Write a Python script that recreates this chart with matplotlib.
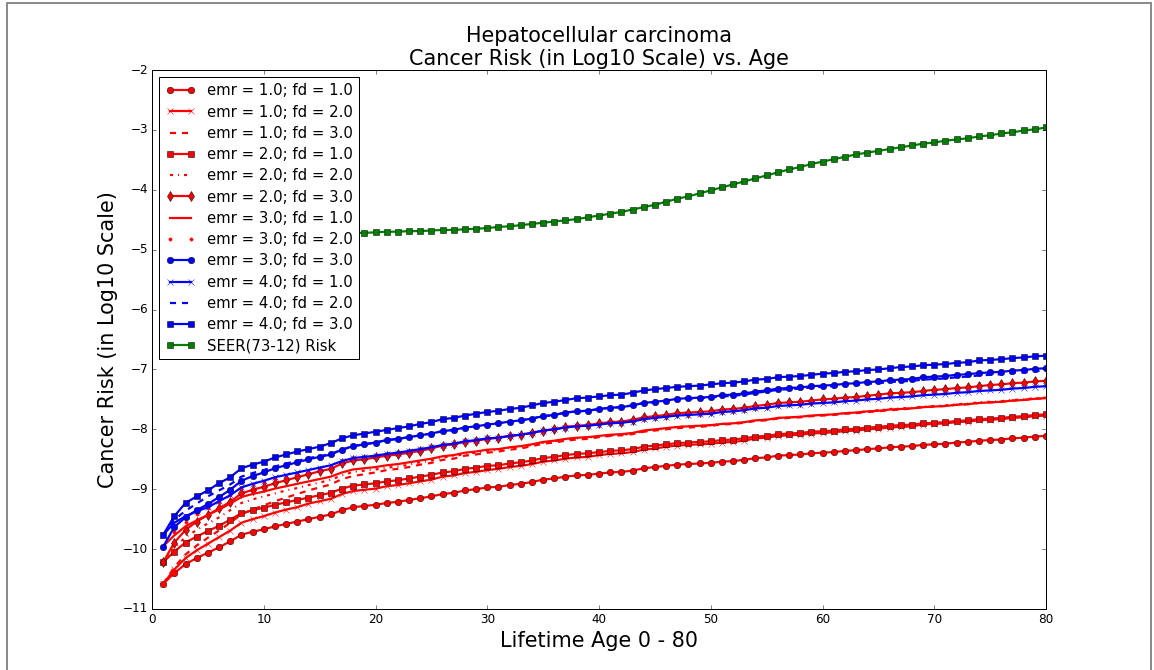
import matplotlib
matplotlib.use("Agg")
import matplotlib.pyplot as plt
from matplotlib.patches import Rectangle

plt.style.use("classic")
plt.rcParams["font.family"] = ["DejaVu Sans"]

# lifetime age in years
ages = list(range(1, 81))

# log10 cancer risk per (emr, fd) combination
emr1_fd1 = [-10.58, -10.40, -10.25, -10.15, -10.06, -9.97, -9.87, -9.76, -9.71, -9.67,
            -9.62, -9.58, -9.54, -9.50, -9.46, -9.42, -9.35, -9.30, -9.28, -9.26,
            -9.23, -9.21, -9.18, -9.15, -9.12, -9.08, -9.06, -9.02, -9.00, -8.97,
            -8.96, -8.93, -8.91, -8.88, -8.84, -8.82, -8.79, -8.77, -8.76, -8.74,
            -8.72, -8.71, -8.69, -8.65, -8.63, -8.61, -8.59, -8.58, -8.57, -8.56,
            -8.54, -8.53, -8.51, -8.48, -8.47, -8.44, -8.43, -8.42, -8.40, -8.39,
            -8.38, -8.36, -8.35, -8.33, -8.32, -8.30, -8.29, -8.28, -8.26, -8.25,
            -8.24, -8.22, -8.21, -8.19, -8.18, -8.17, -8.15, -8.14, -8.12, -8.11]

emr1_fd2 = [-10.58, -10.34, -10.15, -10.02, -9.91, -9.80, -9.69, -9.56, -9.50, -9.45,
            -9.39, -9.34, -9.30, -9.24, -9.20, -9.16, -9.08, -9.03, -9.01, -8.99,
            -8.95, -8.93, -8.90, -8.87, -8.84, -8.79, -8.77, -8.73, -8.71, -8.68,
            -8.66, -8.63, -8.61, -8.58, -8.54, -8.52, -8.49, -8.47, -8.46, -8.43,
            -8.41, -8.40, -8.38, -8.34, -8.32, -8.29, -8.27, -8.26, -8.25, -8.24,
            -8.22, -8.21, -8.19, -8.15, -8.14, -8.11, -8.10, -8.09, -8.07, -8.06,
            -8.05, -8.03, -8.02, -8.00, -7.99, -7.97, -7.96, -7.95, -7.92, -7.91,
            -7.90, -7.88, -7.87, -7.85, -7.84, -7.83, -7.81, -7.80, -7.78, -7.77]

emr1_fd3 = [-10.58, -10.30, -10.09, -9.94, -9.81, -9.69, -9.56, -9.42, -9.34, -9.27,
            -9.20, -9.14, -9.08, -9.02, -8.97, -8.92, -8.83, -8.78, -8.75, -8.72,
            -8.68, -8.66, -8.63, -8.59, -8.56, -8.51, -8.49, -8.44, -8.42, -8.39,
            -8.37, -8.34, -8.32, -8.28, -8.24, -8.22, -8.19, -8.17, -8.16, -8.13,
            -8.11, -8.10, -8.08, -8.04, -8.02, -8.00, -7.98, -7.97, -7.96, -7.94,
            -7.92, -7.91, -7.89, -7.86, -7.85, -7.82, -7.81, -7.80, -7.78, -7.77,
            -7.76, -7.74, -7.73, -7.71, -7.70, -7.68, -7.67, -7.65, -7.63, -7.62,
            -7.61, -7.59, -7.58, -7.56, -7.55, -7.54, -7.52, -7.51, -7.49, -7.48]

emr2_fd1 = [-10.22, -10.04, -9.89, -9.79, -9.70, -9.61, -9.51, -9.40, -9.35, -9.31,
            -9.26, -9.22, -9.18, -9.14, -9.10, -9.06, -8.99, -8.94, -8.92, -8.90,
            -8.87, -8.85, -8.82, -8.79, -8.76, -8.72, -8.70, -8.66, -8.64, -8.61,
            -8.60, -8.57, -8.55, -8.52, -8.48, -8.46, -8.43, -8.41, -8.40, -8.38,
            -8.36, -8.35, -8.33, -8.29, -8.27, -8.25, -8.23, -8.22, -8.21, -8.20,
            -8.18, -8.17, -8.15, -8.12, -8.11, -8.08, -8.07, -8.06, -8.04, -8.03,
            -8.02, -8.00, -7.99, -7.97, -7.96, -7.94, -7.93, -7.92, -7.90, -7.89,
            -7.88, -7.86, -7.85, -7.83, -7.82, -7.81, -7.79, -7.78, -7.76, -7.75]

emr2_fd2 = [-10.22, -9.98, -9.80, -9.68, -9.57, -9.47, -9.35, -9.23, -9.17, -9.12,
            -9.07, -9.02, -8.98, -8.93, -8.89, -8.84, -8.77, -8.71, -8.69, -8.67,
            -8.64, -8.62, -8.59, -8.55, -8.52, -8.47, -8.45, -8.41, -8.39, -8.36,
            -8.34, -8.31, -8.29, -8.26, -8.22, -8.20, -8.17, -8.15, -8.14, -8.12,
            -8.10, -8.09, -8.07, -8.03, -8.01, -7.99, -7.96, -7.95, -7.94, -7.93,
            -7.91, -7.90, -7.88, -7.85, -7.84, -7.81, -7.80, -7.79, -7.77, -7.76,
            -7.75, -7.73, -7.72, -7.70, -7.68, -7.66, -7.65, -7.64, -7.62, -7.61,
            -7.60, -7.58, -7.57, -7.55, -7.54, -7.53, -7.51, -7.50, -7.48, -7.47]

emr2_fd3 = [-10.22, -9.89, -9.68, -9.54, -9.43, -9.32, -9.21, -9.07, -9.01, -8.96,
            -8.90, -8.85, -8.80, -8.75, -8.70, -8.66, -8.57, -8.52, -8.50, -8.47,
            -8.44, -8.42, -8.39, -8.36, -8.32, -8.27, -8.25, -8.21, -8.19, -8.16,
            -8.14, -8.11, -8.09, -8.06, -8.02, -8.00, -7.96, -7.94, -7.93, -7.90,
            -7.88, -7.87, -7.84, -7.80, -7.78, -7.76, -7.73, -7.72, -7.71, -7.70,
            -7.67, -7.66, -7.64, -7.61, -7.59, -7.56, -7.55, -7.54, -7.52, -7.50,
            -7.49, -7.47, -7.46, -7.44, -7.42, -7.40, -7.39, -7.38, -7.36, -7.34,
            -7.33, -7.31, -7.30, -7.28, -7.26, -7.25, -7.23, -7.22, -7.20, -7.19]

emr3_fd1 = [-9.95, -9.77, -9.62, -9.52, -9.43, -9.34, -9.24, -9.13, -9.08, -9.04,
            -8.99, -8.95, -8.91, -8.87, -8.83, -8.79, -8.72, -8.67, -8.65, -8.63,
            -8.60, -8.58, -8.55, -8.52, -8.49, -8.45, -8.43, -8.39, -8.37, -8.34,
            -8.33, -8.30, -8.28, -8.25, -8.21, -8.19, -8.16, -8.14, -8.13, -8.11,
            -8.09, -8.08, -8.06, -8.02, -8.00, -7.98, -7.96, -7.95, -7.94, -7.93,
            -7.91, -7.90, -7.88, -7.85, -7.84, -7.81, -7.80, -7.79, -7.77, -7.76,
            -7.75, -7.73, -7.72, -7.70, -7.69, -7.67, -7.66, -7.65, -7.63, -7.62,
            -7.61, -7.59, -7.58, -7.56, -7.55, -7.54, -7.52, -7.51, -7.49, -7.48]

emr3_fd2 = [-9.96, -9.72, -9.54, -9.42, -9.32, -9.21, -9.10, -8.98, -8.92, -8.88,
            -8.83, -8.79, -8.75, -8.71, -8.67, -8.63, -8.56, -8.51, -8.49, -8.46,
            -8.43, -8.41, -8.38, -8.35, -8.31, -8.26, -8.24, -8.20, -8.18, -8.15,
            -8.13, -8.10, -8.08, -8.05, -8.01, -7.99, -7.95, -7.93, -7.92, -7.89,
            -7.87, -7.86, -7.83, -7.79, -7.77, -7.75, -7.72, -7.71, -7.70, -7.69,
            -7.66, -7.65, -7.63, -7.60, -7.58, -7.55, -7.54, -7.53, -7.51, -7.49,
            -7.48, -7.46, -7.45, -7.43, -7.41, -7.39, -7.38, -7.37, -7.35, -7.33,
            -7.32, -7.30, -7.29, -7.27, -7.25, -7.24, -7.22, -7.21, -7.19, -7.18]

emr3_fd3 = [-9.96, -9.63, -9.47, -9.35, -9.25, -9.13, -9.01, -8.86, -8.78, -8.72,
            -8.65, -8.60, -8.55, -8.50, -8.46, -8.42, -8.34, -8.28, -8.25, -8.22,
            -8.18, -8.16, -8.13, -8.10, -8.07, -8.03, -8.01, -7.97, -7.95, -7.92,
            -7.90, -7.87, -7.85, -7.82, -7.78, -7.76, -7.72, -7.70, -7.69, -7.66,
            -7.64, -7.63, -7.60, -7.56, -7.54, -7.52, -7.49, -7.48, -7.47, -7.46,
            -7.43, -7.42, -7.40, -7.37, -7.35, -7.32, -7.31, -7.30, -7.28, -7.27,
            -7.26, -7.24, -7.23, -7.21, -7.20, -7.18, -7.17, -7.16, -7.13, -7.12,
            -7.11, -7.09, -7.08, -7.06, -7.05, -7.04, -7.02, -7.01, -6.99, -6.98]

emr4_fd1 = [-9.76, -9.56, -9.45, -9.37, -9.30, -9.20, -9.10, -8.97, -8.91, -8.86,
            -8.80, -8.76, -8.72, -8.68, -8.64, -8.60, -8.53, -8.48, -8.46, -8.44,
            -8.41, -8.39, -8.36, -8.33, -8.30, -8.26, -8.24, -8.20, -8.18, -8.15,
            -8.14, -8.11, -8.09, -8.06, -8.02, -8.00, -7.97, -7.95, -7.94, -7.92,
            -7.90, -7.89, -7.87, -7.83, -7.81, -7.79, -7.77, -7.76, -7.75, -7.74,
            -7.71, -7.70, -7.68, -7.65, -7.64, -7.61, -7.60, -7.59, -7.57, -7.56,
            -7.55, -7.53, -7.52, -7.50, -7.49, -7.47, -7.46, -7.45, -7.43, -7.42,
            -7.41, -7.39, -7.38, -7.36, -7.35, -7.34, -7.32, -7.31, -7.29, -7.28]

emr4_fd2 = [-9.76, -9.51, -9.36, -9.24, -9.12, -9.02, -8.92, -8.79, -8.73, -8.68,
            -8.62, -8.57, -8.53, -8.48, -8.45, -8.41, -8.34, -8.28, -8.25, -8.22,
            -8.18, -8.16, -8.13, -8.10, -8.07, -8.03, -8.01, -7.97, -7.95, -7.92,
            -7.90, -7.87, -7.85, -7.82, -7.78, -7.76, -7.72, -7.70, -7.69, -7.66,
            -7.64, -7.63, -7.60, -7.56, -7.55, -7.53, -7.50, -7.49, -7.48, -7.47,
            -7.45, -7.44, -7.42, -7.39, -7.37, -7.34, -7.33, -7.32, -7.30, -7.29,
            -7.28, -7.26, -7.26, -7.24, -7.23, -7.21, -7.20, -7.19, -7.17, -7.16,
            -7.15, -7.13, -7.12, -7.10, -7.09, -7.08, -7.06, -7.05, -7.03, -7.02]

emr4_fd3 = [-9.76, -9.45, -9.23, -9.12, -9.02, -8.90, -8.80, -8.65, -8.59, -8.54,
            -8.47, -8.42, -8.37, -8.33, -8.29, -8.23, -8.15, -8.10, -8.07, -8.04,
            -8.01, -7.98, -7.95, -7.91, -7.88, -7.83, -7.81, -7.77, -7.74, -7.71,
            -7.69, -7.66, -7.64, -7.60, -7.56, -7.54, -7.51, -7.48, -7.47, -7.45,
            -7.43, -7.42, -7.39, -7.35, -7.33, -7.31, -7.29, -7.28, -7.27, -7.25,
            -7.23, -7.22, -7.20, -7.17, -7.16, -7.13, -7.12, -7.11, -7.09, -7.07,
            -7.06, -7.04, -7.03, -7.01, -7.00, -6.98, -6.96, -6.95, -6.93, -6.92,
            -6.91, -6.89, -6.88, -6.85, -6.84, -6.83, -6.81, -6.80, -6.78, -6.77]

# SEER 1973-2012 observed risk
seer_risk = [-5.10, -5.02, -4.97, -4.93, -4.90, -4.87, -4.85, -4.83, -4.81, -4.80,
             -4.78, -4.77, -4.76, -4.75, -4.74, -4.74, -4.73, -4.72, -4.72, -4.71,
             -4.70, -4.70, -4.69, -4.69, -4.68, -4.67, -4.67, -4.66, -4.65, -4.64,
             -4.62, -4.61, -4.59, -4.57, -4.55, -4.53, -4.51, -4.49, -4.46, -4.43,
             -4.40, -4.37, -4.33, -4.29, -4.25, -4.20, -4.15, -4.11, -4.06, -4.01,
             -3.96, -3.91, -3.86, -3.81, -3.76, -3.71, -3.66, -3.62, -3.57, -3.53,
             -3.49, -3.45, -3.41, -3.38, -3.35, -3.32, -3.29, -3.26, -3.23, -3.21,
             -3.18, -3.16, -3.14, -3.11, -3.09, -3.06, -3.04, -3.01, -2.99, -2.96]

curves = [emr1_fd1, emr1_fd2, emr1_fd3, emr2_fd1, emr2_fd2, emr2_fd3,
          emr3_fd1, emr3_fd2, emr3_fd3, emr4_fd1, emr4_fd2, emr4_fd3]
labels = ["emr = 1.0; fd = 1.0", "emr = 1.0; fd = 2.0", "emr = 1.0; fd = 3.0",
          "emr = 2.0; fd = 1.0", "emr = 2.0; fd = 2.0", "emr = 2.0; fd = 3.0",
          "emr = 3.0; fd = 1.0", "emr = 3.0; fd = 2.0", "emr = 3.0; fd = 3.0",
          "emr = 4.0; fd = 1.0", "emr = 4.0; fd = 2.0", "emr = 4.0; fd = 3.0"]
styles = ["o-", "x-", "--", "s-", "-.", "d-", "-", "."]
colors = ["r"] * 8 + ["b"] * 4

W, H = 1154, 670
fig = plt.figure(figsize=(W / 72, H / 72), dpi=72, facecolor="white")
ax = fig.add_axes([152 / W, 61 / H, 894 / W, 539 / H])

for i, (risk, lab) in enumerate(zip(curves, labels)):
    ax.plot(ages, risk, styles[i % len(styles)], color=colors[i], lw=2.2,
            ms=6.5, label=lab)
ax.plot(ages, seer_risk, "s-", color="g", lw=2.2, ms=6.5, label="SEER(73-12) Risk")

ax.set_xlim(0, 80)
ax.set_ylim(-11, -2)
ax.set_title("Hepatocellular carcinoma\nCancer Risk (in Log10 Scale) vs. Age",
             fontsize="xx-large")
ax.set_xlabel("Lifetime Age 0 - 80", fontsize="xx-large")
ax.set_ylabel("Cancer Risk (in Log10 Scale)", fontsize="xx-large")
ax.legend(loc="upper left", fontsize=14.9, labelspacing=0.42)

# thin gray frame around the figure
fig.patches.append(Rectangle((7 / W, -0.05), 1144 / W, (H - 3) / H + 0.05,
                             transform=fig.transFigure, fill=False,
                             edgecolor="#8c8c8c", lw=2))

fig.savefig("out.png", dpi=72, facecolor="white")
